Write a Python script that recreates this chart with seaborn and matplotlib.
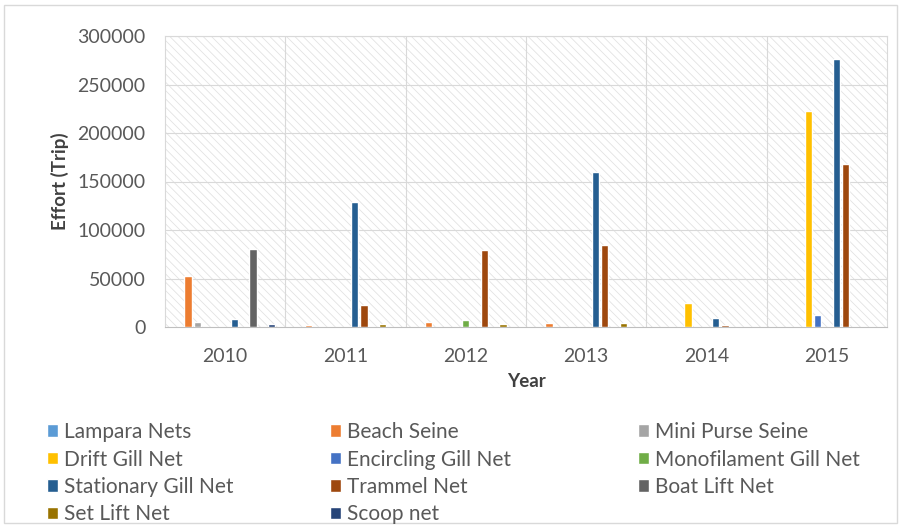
import matplotlib
matplotlib.use("Agg")
import matplotlib.pyplot as plt
import seaborn as sns
import pandas as pd
from matplotlib.patches import Rectangle

years = ["2010", "2011", "2012", "2013", "2014", "2015"]
series = ["Lampara Nets", "Beach Seine", "Mini Purse Seine", "Drift Gill Net",
          "Encircling Gill Net", "Monofilament Gill Net", "Stationary Gill Net",
          "Trammel Net", "Boat Lift Net", "Set Lift Net", "Scoop net"]
lampara = [0, 0, 0, 0, 0, 0]
beach_seine = [53000, 2000, 5000, 4500, 0, 0]
mini_purse = [5000, 0, 0, 0, 0, 0]
drift_gill = [0, 0, 0, 0, 25000, 223000]
encircling_gill = [0, 0, 0, 0, 0, 12000]
monofilament_gill = [0, 0, 7000, 0, 0, 0]
stationary_gill = [8000, 129000, 0, 160000, 9000, 276000]
trammel = [0, 23000, 79000, 85000, 2500, 168000]
boat_lift = [80000, 0, 0, 0, 0, 0]
set_lift = [0, 3000, 3500, 4000, 0, 0]
scoop = [3000, 0, 0, 0, 0, 0]
values = [lampara, beach_seine, mini_purse, drift_gill, encircling_gill,
          monofilament_gill, stationary_gill, trammel, boat_lift, set_lift, scoop]
colors = ["#5B9BD5", "#ED7D31", "#A5A5A5", "#FFC000", "#4472C4", "#70AD47",
          "#255E91", "#9E480E", "#636363", "#997300", "#264478"]

rows = []
for s, v in zip(series, values):
    for y, val in zip(years, v):
        rows.append({"Year": y, "Gear": s, "Effort": val})
df = pd.DataFrame(rows)

sns.set_theme(style="white")
plt.rcParams["font.family"] = ["Lato", "DejaVu Sans"]
plt.rcParams["hatch.linewidth"] = 0.6
plt.rcParams["hatch.color"] = "#e3e3e3"

fig = plt.figure(figsize=(9.02, 5.27), dpi=100)
ax = fig.add_axes([165/902, 1-327/527, (887-165)/902, (327-36)/527])

ax.add_patch(Rectangle((0, 0), 1, 1, transform=ax.transAxes, facecolor="white",
                       edgecolor="#e3e3e3", hatch="\\\\\\\\", linewidth=0, zorder=0))

sns.barplot(data=df, x="Year", y="Effort", hue="Gear", hue_order=series,
            palette=colors, width=0.85, gap=0.22, ax=ax, legend=True,
            saturation=1, zorder=3)

ax.set_ylim(0, 300000)
ax.set_xlim(-0.5, 5.5)
ax.set_yticks(range(0, 300001, 50000))
ax.set_yticklabels([str(v) for v in range(0, 300001, 50000)])
for yv in range(50000, 300001, 50000):
    ax.axhline(yv, color="#d9d9d9", lw=0.8, zorder=1)
for xv in [0.5, 1.5, 2.5, 3.5, 4.5]:
    ax.axvline(xv, color="#d9d9d9", lw=0.8, zorder=1)
for sp in ax.spines.values():
    sp.set_color("#d9d9d9")
    sp.set_linewidth(0.8)
ax.spines["bottom"].set_color("#bfbfbf")
ax.tick_params(axis="both", length=0, labelsize=14, colors="#595959")
ax.tick_params(axis="y", pad=14)
ax.tick_params(axis="x", pad=15)
ax.set_xlabel("Year", fontsize=13.5, fontweight="bold", color="#404040", labelpad=6)
ax.set_ylabel("Effort (Trip)", fontsize=13.5, fontweight="bold", color="#404040", labelpad=6)

handles, labels = ax.get_legend_handles_labels()
ax.get_legend().remove()
cols = [[0, 3, 6, 9], [1, 4, 7, 10], [2, 5, 8]]
xs = [47/902, 330/902, 638/902]
for c, x0 in zip(cols, xs):
    leg = fig.legend([handles[i] for i in c], [labels[i] for i in c],
                     loc="upper left", bbox_to_anchor=(x0, 1-422/527),
                     frameon=False, fontsize=15, handlelength=0.55, handleheight=0.55,
                     handletextpad=0.25, labelspacing=0.36, borderaxespad=0,
                     borderpad=0)
    for t in leg.get_texts():
        t.set_color("#595959")

fig.patches.append(Rectangle((4/902, 4/527), 893/902, 518/527, transform=fig.transFigure,
                             fill=False, edgecolor="#d9d9d9", linewidth=1))
fig.savefig("out.png", dpi=100)
